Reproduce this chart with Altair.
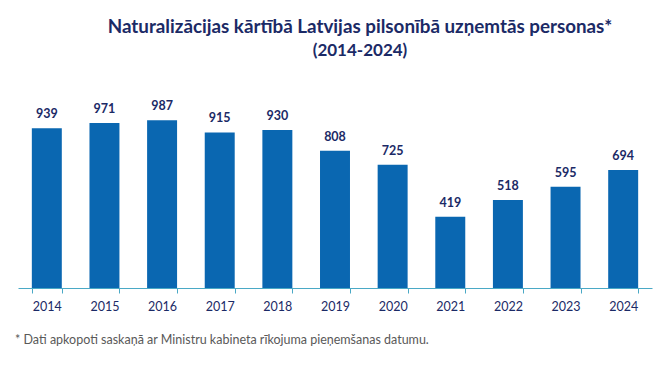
import altair as alt
import pandas as pd

years = ["2014", "2015", "2016", "2017", "2018", "2019", "2020", "2021", "2022", "2023", "2024"]
values = [939, 971, 987, 915, 930, 808, 725, 419, 518, 595, 694]
title_line1 = "Naturalizācijas kārtībā Latvijas pilsonībā uzņemtās personas*"
title_line2 = "(2014-2024)"
footnote = "* Dati apkopoti saskaņā ar Ministru kabineta rīkojuma pieņemšanas datumu."

df = pd.DataFrame({"year": years, "value": values})

NAVY = "#1b2a66"
BAR = "#0a67b1"
AXIS = "#4aa9c6"
FONT = "Lato"

x = alt.X("year:N", sort=years, title=None,
          scale=alt.Scale(paddingInner=0.48, paddingOuter=0.24),
          axis=alt.Axis(labelAngle=0, labelFont=FONT, labelFontSize=12.5, labelColor=NAVY,
                        domainColor=AXIS, tickColor=AXIS, tickSize=5, tickBand="extent",
                        labelPadding=7, grid=False))
y = alt.Y("value:Q", scale=alt.Scale(domain=[0, 1000]), axis=None)

base = alt.Chart(df)
bars = base.mark_bar(color=BAR).encode(x=x, y=y)
labels = base.mark_text(font=FONT, fontSize=12.5, fontWeight="bold", color=NAVY,
                        baseline="alphabetic", dy=-10).encode(x=x, y=y, text="value:Q")

t1 = alt.Chart(pd.DataFrame({"t": [title_line1]})).mark_text(
    font=FONT, fontSize=18.8, fontWeight="bold", color=NAVY,
    align="center", baseline="alphabetic").encode(
    x=alt.value(342), y=alt.value(-85), text="t:N")
t2 = alt.Chart(pd.DataFrame({"t": [title_line2]})).mark_text(
    font=FONT, fontSize=17, fontWeight="bold", color=NAVY,
    align="center", baseline="alphabetic").encode(
    x=alt.value(342), y=alt.value(-62), text="t:N")

foot = alt.Chart(pd.DataFrame({"t": [footnote]})).mark_text(
    font=FONT, fontSize=12.5, color="#595959",
    align="left", baseline="middle").encode(
    x=alt.value(-3), y=alt.value(222), text="t:N")

chart = alt.layer(bars, labels, t1, t2, foot).properties(
    width=634, height=170,
    autosize=alt.AutoSizeParams(type="none"),
    padding={"left": 10, "top": 110, "right": 10, "bottom": 85},
    background="white",
).configure_view(stroke=None)

chart.save("out.html", embed_options={"renderer": "svg", "actions": False})
